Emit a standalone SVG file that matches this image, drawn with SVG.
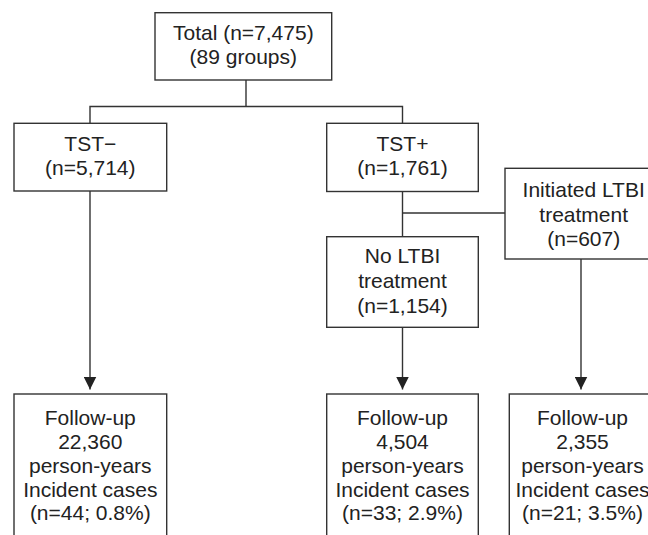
<svg xmlns="http://www.w3.org/2000/svg" width="648" height="535" viewBox="0 0 648 535">
<defs>
<style>
.box{fill:#fff;stroke:#333;stroke-width:1.4}
.ln{fill:none;stroke:#333;stroke-width:1.4}
.t{font-family:"Liberation Sans",Arial,sans-serif;font-size:21px;fill:#222;text-anchor:middle}
</style>
<marker id="ah" markerWidth="13" markerHeight="13" refX="13" refY="6.5" orient="auto" markerUnits="userSpaceOnUse">
<path d="M0,0 L13,6.5 L0,13 Z" fill="#222"/>
</marker>
</defs>
<rect width="648" height="535" fill="#fff"/>
<g id="connectors">
<polyline class="ln" points="246,80 246,106.5"/>
<polyline class="ln" points="90,123 90,106.5 402.5,106.5 402.5,123"/>
<line class="ln" x1="90" y1="191" x2="90" y2="389.5" marker-end="url(#ah)"/>
<line class="ln" x1="402.5" y1="191.5" x2="402.5" y2="236.5"/>
<line class="ln" x1="402.5" y1="213" x2="505" y2="213"/>
<line class="ln" x1="402.5" y1="327.5" x2="402.5" y2="389.5" marker-end="url(#ah)"/>
<line class="ln" x1="581" y1="259" x2="581" y2="389.5" marker-end="url(#ah)"/>
</g>
<g id="total">
<rect class="box" x="155" y="12.7" width="176.7" height="67.3"/>
<text class="t" x="243.3" y="39.5">Total (n=7,475)</text>
<text class="t" x="243.3" y="64">(89 groups)</text>
</g>
<g id="tst-neg">
<rect class="box" x="14" y="123.3" width="152.7" height="67.7"/>
<text class="t" x="90.3" y="150.5">TST−</text>
<text class="t" x="90.3" y="175">(n=5,714)</text>
</g>
<g id="tst-pos">
<rect class="box" x="326.7" y="123.3" width="151.6" height="68.2"/>
<text class="t" x="402.5" y="150.5">TST+</text>
<text class="t" x="402.5" y="175">(n=1,761)</text>
</g>
<g id="initiated">
<rect class="box" x="505" y="168.3" width="157" height="90.7"/>
<text class="t" x="583.7" y="196.5">Initiated LTBI</text>
<text class="t" x="583.7" y="221.5">treatment</text>
<text class="t" x="583.7" y="245.5">(n=607)</text>
</g>
<g id="no-ltbi">
<rect class="box" x="326.7" y="236.7" width="151.6" height="90.6"/>
<text class="t" x="402.5" y="262.7">No LTBI</text>
<text class="t" x="402.5" y="288">treatment</text>
<text class="t" x="402.5" y="312.5">(n=1,154)</text>
</g>
<g id="followup-neg">
<rect class="box" x="14" y="394" width="152.7" height="150"/>
<text class="t" x="90.3" y="425">Follow-up</text>
<text class="t" x="90.3" y="448.5">22,360</text>
<text class="t" x="90.3" y="472.5">person-years</text>
<text class="t" x="90.3" y="496.5">Incident cases</text>
<text class="t" x="90.3" y="520">(n=44; 0.8%)</text>
</g>
<g id="followup-no-ltbi">
<rect class="box" x="326.7" y="394" width="151.6" height="150"/>
<text class="t" x="402.5" y="425">Follow-up</text>
<text class="t" x="402.5" y="448.5">4,504</text>
<text class="t" x="402.5" y="472.5">person-years</text>
<text class="t" x="402.5" y="496.5">Incident cases</text>
<text class="t" x="402.5" y="520">(n=33; 2.9%)</text>
</g>
<g id="followup-ltbi">
<rect class="box" x="509.3" y="394" width="150" height="150"/>
<text class="t" x="582.5" y="425">Follow-up</text>
<text class="t" x="582.5" y="448.5">2,355</text>
<text class="t" x="582.5" y="472.5">person-years</text>
<text class="t" x="582.5" y="496.5">Incident cases</text>
<text class="t" x="582.5" y="520">(n=21; 3.5%)</text>
</g>
</svg>
